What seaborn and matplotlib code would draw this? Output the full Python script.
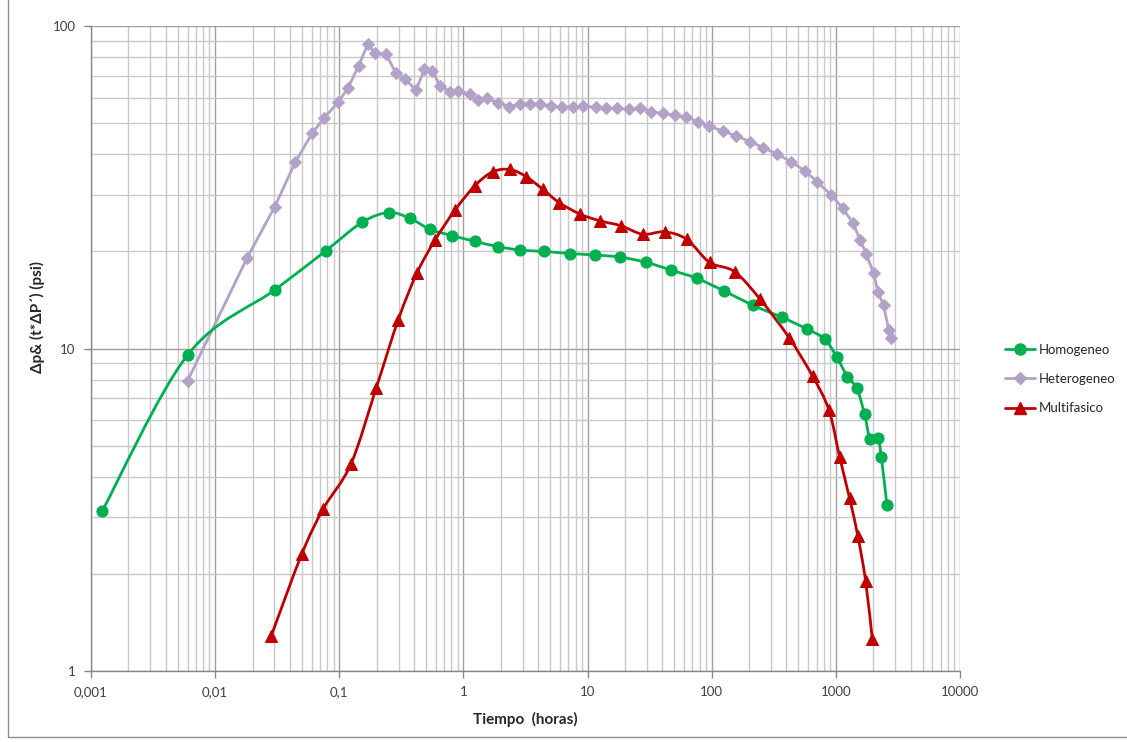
import numpy as np
import pandas as pd
import matplotlib
matplotlib.use("Agg")
import matplotlib.pyplot as plt
import seaborn as sns
from matplotlib.path import Path
from matplotlib.patches import PathPatch, Rectangle
from matplotlib.lines import Line2D
from matplotlib.ticker import FixedLocator, FuncFormatter, LogLocator, NullFormatter

# ---- data ----
homog_t = [0.00123, 0.006, 0.0303, 0.078, 0.152, 0.25, 0.373, 0.54, 0.81, 1.23, 1.89, 2.86,
           4.49, 7.24, 11.4, 18.3, 29.7, 47.2, 75.9, 125, 216, 367, 583, 811, 1019, 1236,
           1477, 1703, 1893, 2179, 2321, 2577]
homog_dp = [3.13, 9.55, 15.2, 20.1, 24.6, 26.4, 25.3, 23.4, 22.4, 21.5, 20.7, 20.2,
            20.0, 19.7, 19.5, 19.2, 18.5, 17.5, 16.5, 15.1, 13.6, 12.5, 11.5, 10.7, 9.4, 8.18,
            7.52, 6.25, 5.23, 5.27, 4.62, 3.27]

hetero_t = [0.006, 0.0181, 0.0302, 0.0443, 0.0604, 0.0758, 0.0985, 0.118, 0.143, 0.1695,
            0.195, 0.238, 0.287, 0.339, 0.416, 0.485, 0.56, 0.649, 0.785, 0.912,
            1.12, 1.30, 1.55, 1.89, 2.35, 2.83, 3.44, 4.15, 5.09, 6.24,
            7.6, 9.27, 11.6, 14.1, 17.2, 21.5, 26.2, 32.5, 40.4, 50.2,
            62.3, 77.3, 94.8, 123, 157, 204, 258, 335, 437, 560,
            708, 918, 1138, 1370, 1573, 1760, 2014, 2181, 2422, 2675, 2797]
hetero_dp = [7.95, 19.1, 27.5, 37.9, 46.5, 52.0, 58.2, 64.4, 75.2, 87.8,
             82.3, 81.7, 71.3, 68.3, 63.3, 73.4, 72.6, 65.2, 62.6, 63.0,
             61.5, 59.0, 59.6, 57.8, 56.2, 57.3, 57.3, 57.3, 56.5, 56.0,
             56.0, 56.5, 56.0, 55.6, 55.6, 55.2, 55.6, 54.2, 53.6, 52.9,
             52.1, 50.5, 48.9, 47.3, 45.6, 43.8, 42.0, 40.1, 37.9, 35.6,
             32.9, 29.9, 27.2, 24.5, 21.7, 19.6, 17.1, 15.0, 13.6, 11.4, 10.8]

multi_t = [0.0282, 0.050, 0.0745, 0.124, 0.198, 0.299, 0.421, 0.591, 0.857, 1.24, 1.72,
           2.38, 3.20, 4.35, 5.94, 8.71, 12.5, 18.7, 27.9, 41.7, 63, 96, 153, 246, 420,
           650, 879, 1071, 1290, 1504, 1735, 1964]
multi_dp = [1.28, 2.31, 3.19, 4.38, 7.53, 12.3, 17.1, 21.7, 26.9, 32.0, 35.3,
            35.9, 34.1, 31.2, 28.3, 26.1, 24.9, 24.0, 22.6, 23.0, 21.8, 18.5, 17.3, 14.2, 10.8,
            8.2, 6.45, 4.62, 3.43, 2.62, 1.905, 1.26]

x_ticks = [0.001, 0.01, 0.1, 1, 10, 100, 1000, 10000]
y_ticks = [1, 10, 100]

GREEN = "#00B050"
LILAC = "#B3A2C7"
RED = "#C00000"


def smooth_path(xs, ys):
    # excel style smoothed line: catmull-rom bezier in log-log space
    lx = np.log10(xs)
    ly = np.log10(ys)
    n = len(lx)
    verts = [(lx[0], ly[0])]
    codes = [Path.MOVETO]
    for i in range(n - 1):
        a = i - 1 if i > 0 else i
        b = i + 2 if i + 2 < n else i + 1
        c1 = (lx[i] + (lx[i + 1] - lx[a]) / 6, ly[i] + (ly[i + 1] - ly[a]) / 6)
        c2 = (lx[i + 1] - (lx[b] - lx[i]) / 6, ly[i + 1] - (ly[b] - ly[i]) / 6)
        verts += [c1, c2, (lx[i + 1], ly[i + 1])]
        codes += [Path.CURVE4] * 3
    return Path(10 ** np.array(verts), codes)


sns.set_style("white")
plt.rcParams['font.family'] = ['Lato', 'DejaVu Sans']

fig = plt.figure(figsize=(11.27, 7.42), dpi=100)
ax = fig.add_axes([91 / 1127, 1 - 671 / 742, (960 - 91) / 1127, (671 - 26) / 742])
ax.set_xscale("log")
ax.set_yscale("log")

# heterogeneo: straight segments
sns.lineplot(x=hetero_t, y=hetero_dp, ax=ax, color=LILAC, lw=2, marker="D", markersize=6,
             markeredgecolor=LILAC, estimator=None, legend=False, zorder=3)

# smoothed series: markers through seaborn, line as bezier path
sns.lineplot(x=homog_t, y=homog_dp, ax=ax, color=GREEN, lw=0, marker="o", markersize=8,
             markeredgecolor=GREEN, estimator=None, legend=False, zorder=4)
sns.lineplot(x=multi_t, y=multi_dp, ax=ax, color=RED, lw=0, marker="^", markersize=8,
             markeredgecolor=RED, estimator=None, legend=False, zorder=4)
ax.add_patch(PathPatch(smooth_path(homog_t, homog_dp), fill=False, edgecolor=GREEN, lw=2, zorder=3))
ax.add_patch(PathPatch(smooth_path(multi_t, multi_dp), fill=False, edgecolor=RED, lw=2, zorder=3))

ax.set_xlim(0.001, 10000)
ax.set_ylim(1, 100)

ax.xaxis.set_major_locator(FixedLocator(x_ticks))
ax.yaxis.set_major_locator(FixedLocator(y_ticks))
ax.xaxis.set_minor_locator(LogLocator(base=10, subs=np.arange(2, 10), numticks=20))
ax.yaxis.set_minor_locator(LogLocator(base=10, subs=np.arange(2, 10), numticks=20))
ax.xaxis.set_minor_formatter(NullFormatter())
ax.yaxis.set_minor_formatter(NullFormatter())
ax.xaxis.set_major_formatter(FuncFormatter(lambda v, p: f"{v:g}".replace(".", ",")))
ax.yaxis.set_major_formatter(FuncFormatter(lambda v, p: f"{v:g}"))

ax.grid(which="major", color="#a0a0a0", lw=1)
ax.grid(which="minor", color="#c8c8c8", lw=1)
ax.set_axisbelow(True)
ax.tick_params(which="major", direction="out", length=5, width=1, color="#868686",
               labelsize=9.5, labelcolor="#404040", bottom=True, left=True, pad=6)
ax.tick_params(which="minor", length=0)
for s in ["top", "right"]:
    ax.spines[s].set_visible(False)
for s in ["left", "bottom"]:
    ax.spines[s].set_color("#868686")
    ax.spines[s].set_linewidth(1)

ax.set_xlabel("Tiempo  (horas)", fontsize=11, fontweight="bold", labelpad=10)
ax.set_ylabel("Δp& (t*ΔP´) (psi)", fontsize=11, fontweight="bold")
ax.yaxis.set_label_coords(-0.053, 0.549)

handles = [
    Line2D([], [], color=GREEN, lw=2, marker="o", markersize=8, label="Homogeneo"),
    Line2D([], [], color=LILAC, lw=2, marker="D", markersize=6, label="Heterogeneo"),
    Line2D([], [], color=RED, lw=2, marker="^", markersize=8, label="Multifasico"),
]
fig.legend(handles=handles, loc="center left", bbox_to_anchor=(993 / 1127, 1 - 379 / 742),
           frameon=False, fontsize=9.5, handlelength=2.3, labelspacing=1.3, handletextpad=0.3)

# chart border
fig.patches.append(Rectangle((8 / 1127, 5 / 742), 1.2, 1.2, transform=fig.transFigure,
                             fill=False, edgecolor="#8c8c8c", lw=1))

fig.savefig("out.png", dpi=100)
plt.close()
